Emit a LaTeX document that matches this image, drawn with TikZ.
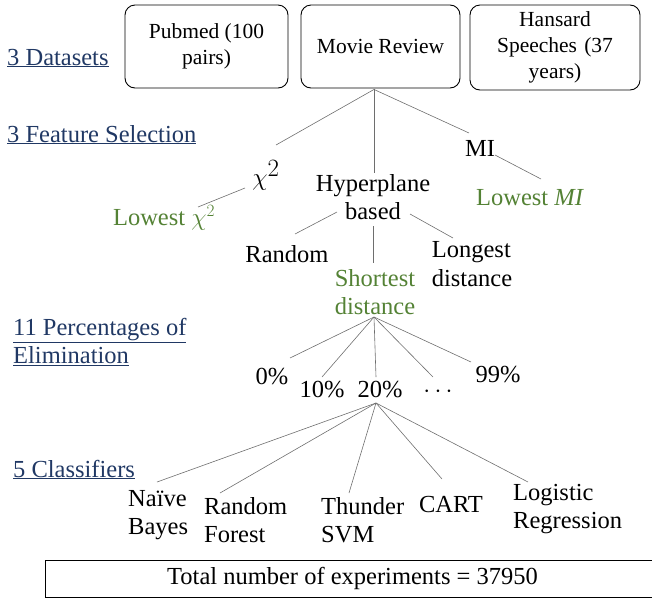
\documentclass[tikz,border=0pt]{standalone}
\usepackage{fontspec}
\setmainfont{Liberation Serif}
\definecolor{navy}{RGB}{32,56,100}
\definecolor{leaf}{RGB}{84,130,53}
\definecolor{conn}{RGB}{110,110,110}
\begin{document}
\begin{tikzpicture}[x=1pt,y=-1pt,
  every node/.style={font=\fontsize{24.5}{28.5}\selectfont, inner sep=0pt},
  dbox/.style={draw, line width=0.9pt, rounded corners=10pt, align=center, font=\fontsize{21.5}{26}\selectfont},
  lvl/.style={text=navy, anchor=base west, align=left},
  grn/.style={text=leaf},
  lst/.style={align=left, anchor=west},
  edge/.style={draw=conn, line width=0.6pt}]
\useasboundingbox (0,0) rectangle (652,598);
\clip (0,0) rectangle (652,598);

% level labels
\node[lvl] (l1) at (7,65) {\underline{3 Datasets}};
\node[lvl] (l2) at (7,142) {\underline{3 Feature Selection}};
\node[lvl, anchor=west] (l3) at (13,342) {\underline{11 Percentages of}\\\underline{Elimination}};
\node[lvl] (l4) at (13,477) {\underline{5 Classifiers}};

% datasets
\node[dbox, minimum width=163pt, minimum height=83pt] (pub) at (206.5,46.5) {Pubmed (100\\pairs)};
\node[dbox, minimum width=159pt, minimum height=83pt] (mr) at (380.5,46.5) {Movie Review};
\node[dbox, minimum width=170pt, minimum height=85pt, text width=165pt] (han) at (555,47.5) {Hansard\\Speeches (37\\years)};

% feature selection
\node (chi) at (266,175) {\fontsize{33}{36}\selectfont$\chi^2$};
\node[align=center] (hyp) at (373,197) {Hyperplane\\based};
\node (mi) at (480,148) {MI};
\node[grn] (lowchi) at (164,218) {Lowest $\chi^2$};
\node[grn] (lowmi) at (530,198) {Lowest \textit{MI}};
\node (rand) at (287,254) {Random};
\node[grn, align=center] (short) at (375,292) {Shortest\\distance};
\node[align=left] (long) at (472,264) {Longest\\distance};

% percentages
\node (p0) at (272,377) {0\%};
\node (p10) at (322,390) {10\%};
\node (p20) at (380,390) {20\%};
\node (pd) at (438,392) {$\cdots$};
\node (p99) at (498,375) {99\%};

% classifiers
\node[lst] (nb) at (128,515) {Naïve\\Bayes};
\node[lst] (rf) at (204,520) {Random\\Forest};
\node[lst] (ts) at (321,520) {Thunder\\SVM};
\node (cart) at (451,504) {CART};
\node[lst] (lr) at (513,509) {Logistic\\Regression};

% total
\node[draw, line width=0.7pt, minimum width=615pt, minimum height=37pt] (total) at (352.5,578.5) {Total number of experiments = 37950};

% connectors
\draw[edge] ([shift={(-6.5,1)}]mr.south) -- ([shift={(10,-30)}]chi.center);
\draw[edge] ([shift={(-6.5,1)}]mr.south) -- ([shift={(1,-24)}]hyp.center);
\draw[edge] ([shift={(-6.5,1)}]mr.south) -- ([shift={(-11,-15)}]mi.center);
\draw[edge] ([shift={(15,7)}]mi.center) -- ([shift={(11,-19)}]lowmi.center);
\draw[edge] ([shift={(-21,13)}]chi.center) -- ([shift={(34,-11)}]lowchi.center);
\draw[edge] ([shift={(-36,15)}]hyp.center) -- ([shift={(8,-20)}]rand.center);
\draw[edge] ([shift={(0,29)}]hyp.center) -- ([shift={(-2,-29)}]short.center);
\draw[edge] ([shift={(37,17)}]hyp.center) -- ([shift={(-19,-26)}]long.center);

\draw[edge] ([shift={(-1,25)}]short.center) -- ([shift={(18,-19)}]p0.center);
\draw[edge] ([shift={(-1,25)}]short.center) -- ([shift={(0,-13)}]p10.center);
\draw[edge] ([shift={(-1,25)}]short.center) -- ([shift={(-4,-13)}]p20.center);
\draw[edge] ([shift={(-1,25)}]short.center) -- ([shift={(-5,-15)}]pd.center);
\draw[edge] ([shift={(-1,25)}]short.center) -- ([shift={(-27,-13)}]p99.center);

\draw[edge] ([shift={(-4,13)}]p20.center) -- ([shift={(29,-33)}]nb.west);
\draw[edge] ([shift={(-4,13)}]p20.center) -- ([shift={(16,-27)}]rf.west);
\draw[edge] ([shift={(-4,13)}]p20.center) -- ([shift={(28,-27)}]ts.west);
\draw[edge] ([shift={(-4,13)}]p20.center) -- ([shift={(-9,-25)}]cart.center);
\draw[edge] ([shift={(-4,13)}]p20.center) -- ([shift={(15,-27)}]lr.west);
\end{tikzpicture}
\end{document}
